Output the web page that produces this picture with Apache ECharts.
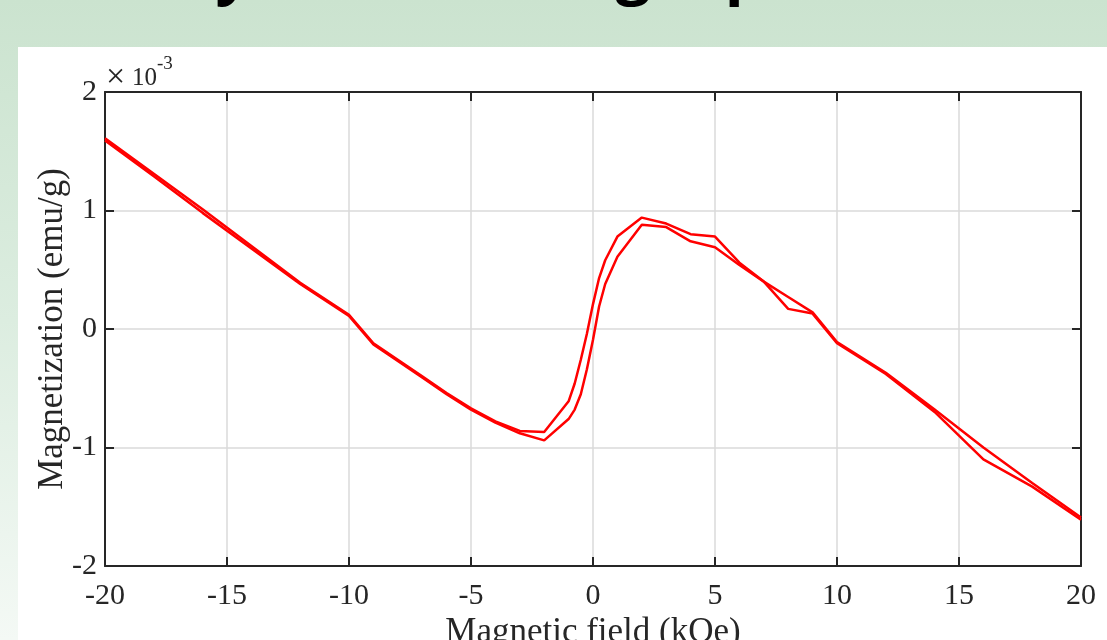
<!DOCTYPE html>
<html>
<head>
<meta charset="utf-8">
<script src="https://cdn.jsdelivr.net/npm/echarts@6/dist/echarts.min.js"></script>
<style>
  html, body { margin: 0; padding: 0; width: 1107px; height: 640px; overflow: hidden; }
  body { background: linear-gradient(to bottom, #cbe3cf 0%, #dcede0 50%, #f4f9f5 100%); position: relative; }
  #panel { position: absolute; left: 18px; top: 47px; right: 0; bottom: 0; background: #fff; }
  #container { position: absolute; left: 0; top: 0; width: 1107px; height: 640px; }
</style>
</head>
<body>
<div id="panel"></div>
<div id="container"></div>
<script>
// field values (kOe), shared by both branches
var field = [-20, -18, -16, -14, -12, -10, -9, -8, -7, -6, -5, -4, -3, -2, -1, -0.75, -0.5, -0.25,
  0, 0.25, 0.5, 1, 2, 3, 4, 5, 6, 7, 8, 9, 10, 12, 14, 16, 18, 20];
// magnetization (x1e-3 emu/g)
var branchA = [1.61, 1.31, 1.01, 0.70, 0.39, 0.12, -0.12, -0.26, -0.40, -0.54, -0.67, -0.78, -0.86, -0.87, -0.61, -0.46, -0.26, -0.04,
  0.21, 0.43, 0.58, 0.78, 0.94, 0.89, 0.80, 0.78, 0.56, 0.40, 0.27, 0.14, -0.11, -0.37, -0.68, -1.00, -1.30, -1.59];
var branchB = [1.59, 1.29, 0.98, 0.68, 0.38, 0.11, -0.13, -0.27, -0.41, -0.55, -0.68, -0.79, -0.88, -0.94, -0.76, -0.68, -0.55, -0.34,
  -0.09, 0.19, 0.38, 0.61, 0.88, 0.86, 0.74, 0.69, 0.54, 0.40, 0.17, 0.13, -0.12, -0.38, -0.70, -1.10, -1.33, -1.61];
var xTicks = [-20, -15, -10, -5, 0, 5, 10, 15, 20];
var yTicks = [-2, -1, 0, 1, 2];

function pairs(xs, ys) {
  return xs.map(function (x, i) { return [x, ys[i]]; });
}

var dom = document.getElementById("container");
var myChart = echarts.init(dom, null, { renderer: "canvas" });

var axisColor = "#262626";
var gridColor = "#dadada";
var font = "Liberation Serif";

var boxAxis = {
  axisLine: { show: true, onZero: false, lineStyle: { color: axisColor, width: 2 } },
  axisTick: { show: true, inside: true, length: 9, lineStyle: { color: axisColor, width: 2 } },
  splitLine: { show: false },
  axisLabel: { show: false }
};

var option = {
  animation: false,
  backgroundColor: "transparent",
  grid: { left: 105, top: 92, width: 976, height: 474, outerBoundsMode: "none", containLabel: false },
  graphic: [
    {
      type: "text", left: 24, top: -57, silent: true,
      style: { text: "Weakly tilted strong dip", fontSize: 62, fontWeight: "bold",
        fontFamily: "Open Sans", fill: "#000" }
    },
    {
      type: "text", left: 106, top: 61, silent: true,
      style: { text: "\u00d7", fontSize: 34, fontFamily: font, fill: axisColor }
    },
    {
      type: "text", left: 132, top: 66, silent: true,
      style: { text: "10", fontSize: 25, fontFamily: font, fill: axisColor }
    },
    {
      type: "text", left: 157, top: 55, silent: true,
      style: { text: "-3", fontSize: 19, fontFamily: font, fill: axisColor }
    }
  ],
  xAxis: [
    {
      type: "value",
      min: xTicks[0], max: xTicks[xTicks.length - 1], interval: xTicks[1] - xTicks[0],
      position: "bottom",
      name: "Magnetic field (kOe)", nameLocation: "middle", nameGap: 49, nameMoveOverlap: false,
      nameTextStyle: { fontFamily: font, fontSize: 35, color: axisColor },
      axisLine: { show: true, onZero: false, lineStyle: { color: axisColor, width: 2 } },
      axisTick: { show: true, inside: true, length: 9, lineStyle: { color: axisColor, width: 2 } },
      axisLabel: { fontFamily: font, fontSize: 30, color: axisColor, margin: 15 },
      splitLine: { show: true, lineStyle: { color: gridColor, width: 1.5 } }
    },
    Object.assign({
      type: "value", position: "top",
      min: xTicks[0], max: xTicks[xTicks.length - 1], interval: xTicks[1] - xTicks[0]
    }, boxAxis)
  ],
  yAxis: [
    {
      type: "value",
      min: yTicks[0], max: yTicks[yTicks.length - 1], interval: yTicks[1] - yTicks[0],
      position: "left",
      name: "Magnetization (emu/g)", nameLocation: "middle", nameGap: 35, nameRotate: 90,
      nameMoveOverlap: false,
      nameTextStyle: { fontFamily: font, fontSize: 35, color: axisColor },
      axisLine: { show: true, onZero: false, lineStyle: { color: axisColor, width: 2 } },
      axisTick: { show: true, inside: true, length: 9, lineStyle: { color: axisColor, width: 2 } },
      axisLabel: { fontFamily: font, fontSize: 30, color: axisColor, margin: 8 },
      splitLine: { show: true, lineStyle: { color: gridColor, width: 1.5 } }
    },
    Object.assign({
      type: "value", position: "right",
      min: yTicks[0], max: yTicks[yTicks.length - 1], interval: yTicks[1] - yTicks[0]
    }, boxAxis)
  ],
  series: [
    {
      type: "line", xAxisIndex: 0, yAxisIndex: 0,
      data: pairs(field, branchA),
      showSymbol: false, smooth: false,
      lineStyle: { color: "#ff0000", width: 2.5 }
    },
    {
      type: "line", xAxisIndex: 0, yAxisIndex: 0,
      data: pairs(field, branchB),
      showSymbol: false, smooth: false,
      lineStyle: { color: "#ff0000", width: 2.5 }
    }
  ]
};

myChart.setOption(option);
window.addEventListener("resize", myChart.resize);
</script>
</body>
</html>
